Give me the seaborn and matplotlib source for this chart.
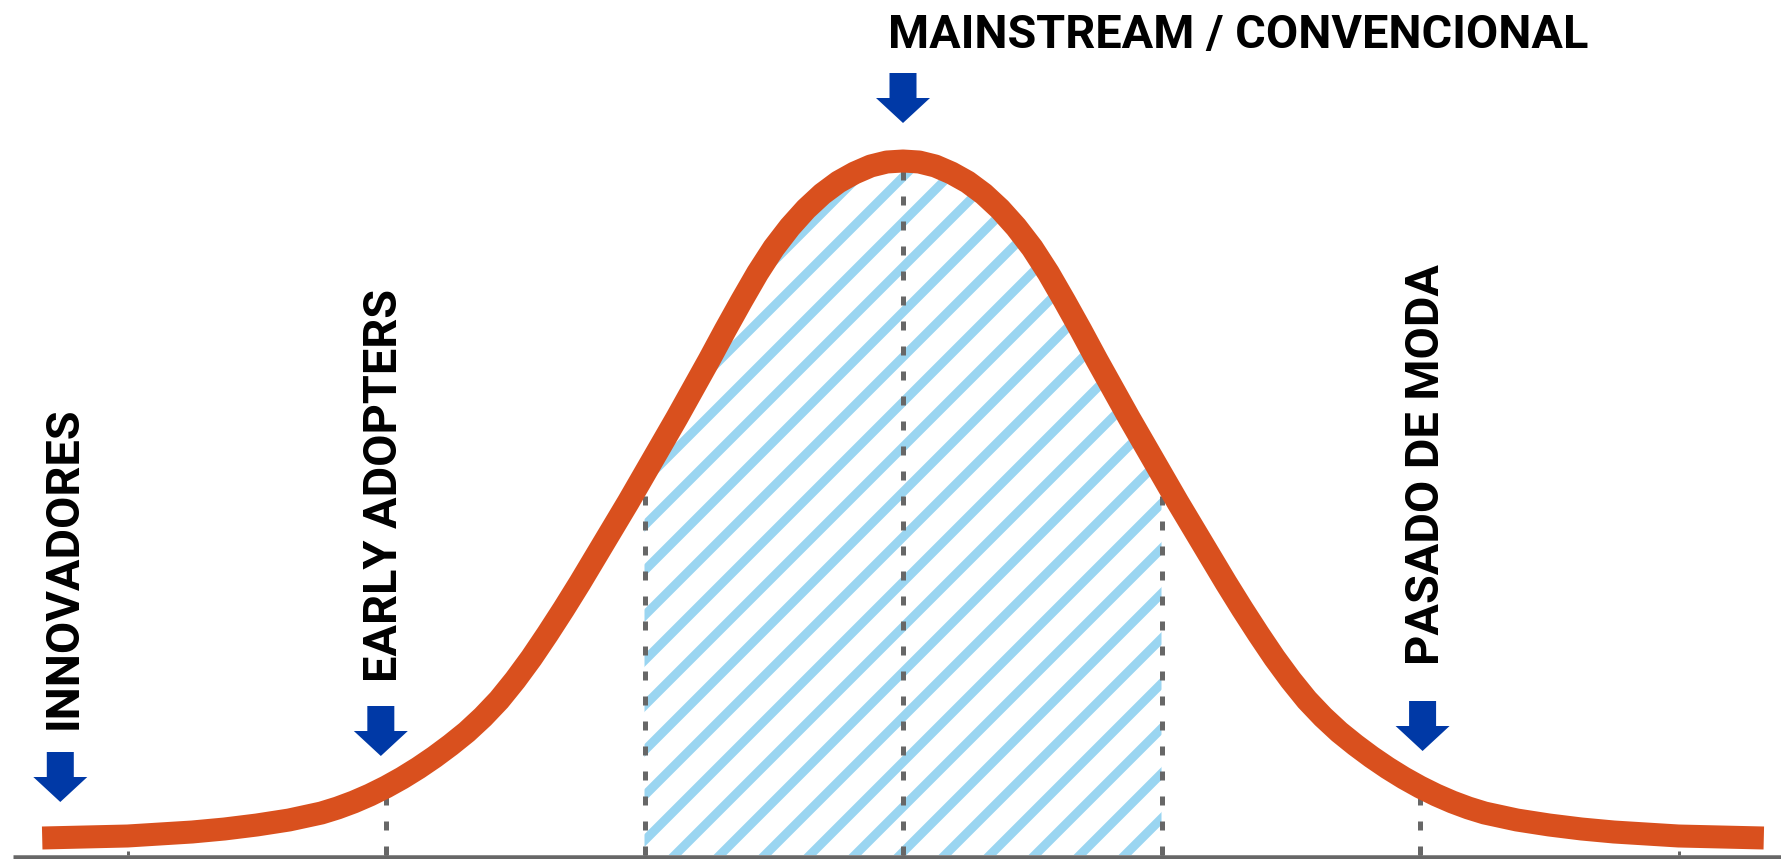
import matplotlib
matplotlib.use("Agg")
import matplotlib.pyplot as plt
import seaborn as sns
import pandas as pd
from matplotlib.patches import FancyArrow

# ---------------- data ----------------
position_sd = [-3.33, -3.165, -3.0, -2.875, -2.75, -2.625, -2.5, -2.375, -2.25, -2.1875,
               -2.125, -2.0625, -2.0, -1.9375, -1.875, -1.8125, -1.75, -1.6875, -1.625, -1.5625,
               -1.5, -1.4375, -1.375, -1.3125, -1.25, -1.1875, -1.125, -1.0625, -1.0, -0.9375,
               -0.875, -0.8125, -0.75, -0.6875, -0.625, -0.5625, -0.5, -0.4375, -0.375, -0.3125,
               -0.25, -0.1875, -0.125, -0.0625, 0.0,
               0.0625, 0.125, 0.1875, 0.25, 0.3125, 0.375, 0.4375, 0.5, 0.5625, 0.625,
               0.6875, 0.75, 0.8125, 0.875, 0.9375, 1.0, 1.0625, 1.125, 1.1875, 1.25,
               1.3125, 1.375, 1.4375, 1.5, 1.5625, 1.625, 1.6875, 1.75, 1.8125, 1.875,
               1.9375, 2.0, 2.0625, 2.125, 2.1875, 2.25, 2.375, 2.5, 2.625, 2.75,
               2.875, 3.0, 3.165, 3.33]
adoption = [17, 18, 19, 21, 23, 26, 30, 35, 42, 47,
            53, 60, 68, 77, 87, 98, 110, 123, 138, 155,
            175, 197, 221, 246, 272, 299, 326, 353, 381, 409,
            437, 466, 495, 525, 554, 582, 607, 628, 646, 661,
            673, 682, 689, 693, 694,
            693, 689, 682, 673, 661, 646, 628, 607, 582, 554,
            525, 495, 466, 437, 409, 381, 353, 326, 299, 272,
            246, 221, 197, 175, 155, 138, 123, 110, 98, 87,
            77, 68, 60, 53, 47, 42, 35, 30, 26, 23,
            21, 19, 18, 17]
divider_sd = [-2, -1, 0, 1, 2]
tick_sd = [-3, -2, -1, 0, 1, 2, 3]
mainstream_range = [-1, 1]
labels = ["INNOVADORES", "EARLY ADOPTERS", "MAINSTREAM / CONVENCIONAL", "PASADO DE MODA"]
label_sd = [-3.26, -2.02, 0.0, 2.01]

# ---------------- style ----------------
W, H, DPI = 1781, 859, 270
PX = 72.0 / DPI            # one pixel in points
CURVE = "#D9501E"
HATCH = "#9AD5F1"
GREY = "#676767"
BLUE = "#0039A6"

sns.set_theme(style="white")
plt.rcParams["font.family"] = ["Roboto", "DejaVu Sans"]
plt.rcParams["hatch.linewidth"] = 2.4
plt.rcParams["lines.scale_dashes"] = False

df = pd.DataFrame({"sd": position_sd, "adoption": adoption})
lookup = dict(zip(position_sd, adoption))

fig = plt.figure(figsize=(W / DPI, H / DPI), dpi=DPI)
fig.patch.set_facecolor("white")
ax = fig.add_axes([0, 0, 1, 1])
ax.set_xlim(-903 / 258.5, (W - 903) / 258.5)
ax.set_ylim(-4, 855)
ax.axis("off")

# hatched mainstream area
sub = df[(df.sd >= mainstream_range[0]) & (df.sd <= mainstream_range[1])]
ax.fill_between(sub.sd, 0, sub.adoption, facecolor="none", edgecolor=HATCH,
                hatch="//", linewidth=0, zorder=1)

# dashed dividers
for s in divider_sd:
    ax.plot([s, s], [0, lookup[float(s)]], color=GREY, lw=5 * PX,
            linestyle=(0, (9 * PX, 16 * PX)), dash_capstyle="butt", zorder=2)

# curve
sns.lineplot(data=df, x="sd", y="adoption", ax=ax, color=CURVE, linewidth=23 * PX,
             zorder=3, legend=False)
curve = ax.lines[-1]
curve.set_linewidth(23 * PX)
curve.set_solid_capstyle("butt")
curve.set_solid_joinstyle("round")

# baseline and ticks
ax.hlines(-2, (13 - 903) / 258.5, ax.get_xlim()[1], color=GREY, lw=4.5 * PX, zorder=4)
ax.vlines(tick_sd, 0, 4, color=GREY, lw=3 * PX, zorder=4)
ax.set_xlabel("")
ax.set_ylabel("")

# overlay in pixel coordinates for annotations
ov = fig.add_axes([0, 0, 1, 1])
ov.set_xlim(0, W)
ov.set_ylim(H, 0)
ov.axis("off")
ov.patch.set_alpha(0)

def xpx(sd):
    return ax.transData.transform((sd, 0))[0]

arrow_top = [752, 706, 73, 701]
text_start = [729, 682, 48, 665]
FS = 12.5
text_kw = dict(fontsize=FS, fontweight="bold", color="#000000")
for lab, s, top, ts in zip(labels, label_sd, arrow_top, text_start):
    x = xpx(s)
    ov.add_patch(FancyArrow(x, top, 0, 50, width=27, head_width=54, head_length=25,
                            length_includes_head=True, color=BLUE, linewidth=0))
    if lab.startswith("MAINSTREAM"):
        ov.text(888, ts, lab, ha="left", va="baseline", **text_kw)
    else:
        ov.text(x + 16, ts, lab, rotation=90, rotation_mode="anchor",
                ha="left", va="baseline", **text_kw)

fig.savefig("out.png", dpi=DPI, facecolor="white")
